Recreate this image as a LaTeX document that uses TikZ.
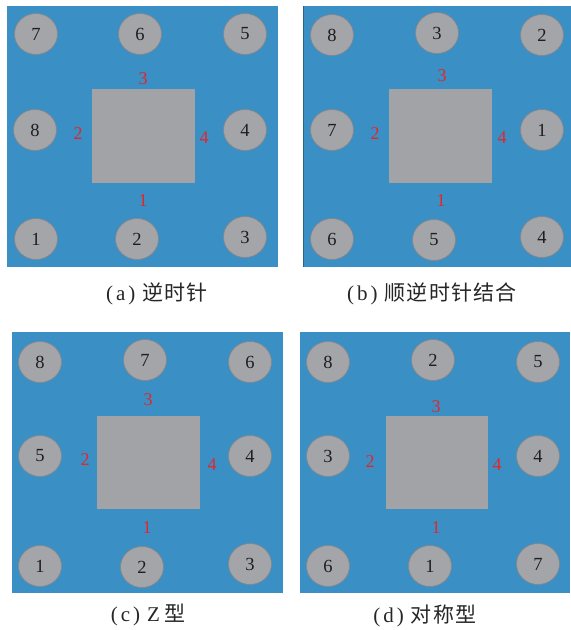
\documentclass[tikz,border=0pt]{standalone}
\usepackage{fontspec}
\setmainfont{Liberation Serif}
\newfontfamily\cjk[LetterSpace=6]{Noto Sans CJK SC}
\usetikzlibrary{shapes.geometric}
\definecolor{plate}{HTML}{3A8FC5}
\definecolor{holefill}{HTML}{A4A5A9}
\definecolor{holeline}{HTML}{85878B}
\definecolor{sqfill}{HTML}{A2A3A7}
\definecolor{redlbl}{HTML}{E3262A}
\definecolor{digit}{HTML}{1E1E1E}
\tikzset{
  plateback/.style={fill=plate, draw=none},
  core/.style={fill=sqfill, draw=none},
  hole/.style={ellipse, fill=holefill, draw=holeline, line width=0.7pt,
    minimum width=43pt, minimum height=41pt, inner sep=0pt,
    text=digit, font=\fontsize{18.5}{18.5}\selectfont},
  side/.style={inner sep=0pt, text=redlbl, font=\fontsize{18}{18}\selectfont},
  capt/.style={inner sep=0pt, text=black!85, font=\fontsize{21}{23}\selectfont}
}
\newcommand{\capparen}[1]{(\kern3pt#1\kern3pt)\hspace{7pt}}
\begin{document}
\begin{tikzpicture}[x=1pt,y=-1pt]
\useasboundingbox (0,0) rectangle (571,630);
\fill[white] (0,0) rectangle (571,630);
% ---------- (a)
\fill[plateback] (7,6) rectangle (278,267);
\node[core, minimum width=103pt, minimum height=94pt] (asq) at (143.5,136) {};
\node[hole] (a7) at (36,34) {7};
\node[hole] (a6) at (140,34) {6};
\node[hole] (a5) at (245,34) {5};
\node[hole] (a8) at (35,130) {8};
\node[hole] (a4) at (245,130) {4};
\node[hole] (a1) at (36,239) {1};
\node[hole] (a2) at (137,239) {2};
\node[hole] (a3) at (245,237) {3};
\node[side] (as3) at (143,79) {3};
\node[side] (as2) at (78,134) {2};
\node[side] (as4) at (204,138) {4};
\node[side] (as1) at (143,201) {1};
\node[capt] (acap) at (157,294) {\capparen{a}{\cjk 逆时针}};
% ---------- (b)
\fill[plateback] (303,6) rectangle (571,267);
\draw[plate!70!black, line width=1pt] (303.5,6) -- (303.5,267);
\node[core, minimum width=103pt, minimum height=94pt] (bsq) at (440.5,136) {};
\node[hole] (b8) at (332,35) {8};
\node[hole] (b3) at (437,33) {3};
\node[hole] (b2) at (542,35) {2};
\node[hole] (b7) at (332,130) {7};
\node[hole] (b1) at (542,130) {1};
\node[hole] (b6) at (332,239) {6};
\node[hole] (b5) at (434,240) {5};
\node[hole] (b4) at (542,237) {4};
\node[side] (bs3) at (442,76) {3};
\node[side] (bs2) at (375,134) {2};
\node[side] (bs4) at (502,138) {4};
\node[side] (bs1) at (441,201) {1};
\node[capt] (bcap) at (432,294) {\capparen{b}{\cjk 顺逆时针结合}};
% ---------- (c)
\fill[plateback] (12,332) rectangle (283,593);
\node[core, minimum width=103pt, minimum height=93pt] (csq) at (148.5,462.5) {};
\node[hole] (c8) at (40,362) {8};
\node[hole] (c7) at (145,360) {7};
\node[hole] (c6) at (250,362) {6};
\node[hole] (c5) at (40,456) {5};
\node[hole] (c4) at (250,456) {4};
\node[hole] (c1) at (40,566) {1};
\node[hole] (c2) at (142,567) {2};
\node[hole] (c3) at (250,564) {3};
\node[side] (cs3) at (148,400) {3};
\node[side] (cs2) at (85,460) {2};
\node[side] (cs4) at (212,465) {4};
\node[side] (cs1) at (147,528) {1};
\node[capt] (ccap) at (148,615) {\capparen{c}Z\hspace{4pt}{\cjk 型}};
% ---------- (d)
\fill[plateback] (300,332) rectangle (570,593);
\node[core, minimum width=102pt, minimum height=93pt] (dsq) at (437,462.5) {};
\node[hole] (d8) at (328,362) {8};
\node[hole] (d2) at (433,360) {2};
\node[hole] (d5) at (538,362) {5};
\node[hole] (d3) at (328,456) {3};
\node[hole] (d4) at (538,456) {4};
\node[hole] (d6) at (328,566) {6};
\node[hole] (d1) at (430,566) {1};
\node[hole] (d7) at (538,564) {7};
\node[side] (ds3) at (436,407) {3};
\node[side] (ds2) at (370,462) {2};
\node[side] (ds4) at (497,465) {4};
\node[side] (ds1) at (436,528) {1};
\node[capt] (dcap) at (425,616) {\capparen{d}{\cjk 对称型}};
\end{tikzpicture}
\end{document}
